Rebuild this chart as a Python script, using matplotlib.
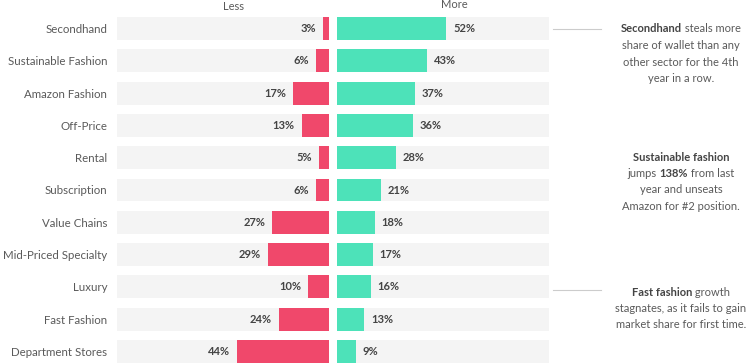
import matplotlib.pyplot as plt

categories = ['Secondhand', 'Sustainable Fashion', 'Amazon Fashion', 'Off-Price', 'Rental',
              'Subscription', 'Value Chains', 'Mid-Priced Specialty', 'Luxury', 'Fast Fashion',
              'Department Stores']
less = [3, 6, 17, 13, 5, 6, 27, 29, 10, 24, 44]
more = [52, 43, 37, 36, 28, 21, 18, 17, 16, 13, 9]

notes = [
    (0, [[('Secondhand', True), (' steals more', False)],
         [('share of wallet than any', False)],
         [('other sector for the 4th', False)],
         [('year in a row.', False)]]),
    (None, [[('Sustainable fashion', True)],
            [('jumps ', False), ('138%', True), (' from last', False)],
            [('year and unseats', False)],
            [('Amazon for #2 position.', False)]]),
    (8, [[('Fast fashion', True), (' growth', False)],
         [('stagnates, as it fails to gain', False)],
         [('market share for first time.', False)]]),
]
note_top = [29, 157, 292]

plt.rcParams['font.family'] = ['Lato', 'DejaVu Sans']
W, H = 750, 363
fig = plt.figure(figsize=(W / 100, H / 100), dpi=100)

red = '#f0486b'
green = '#4de2b9'
bg = '#f4f4f4'
txt = '#5a5a5a'
val = '#444444'

row0, step = 28.5, 32.3
ylo = (H - row0) / step
yhi = -row0 / step

axl = fig.add_axes([117 / W, 0, 212 / W, 1])
axr = fig.add_axes([337 / W, 0, 214 / W, 1])
ys = list(range(len(categories)))
for ax in (axl, axr):
    ax.barh(ys, [101] * len(ys), height=0.71, color=bg)
    ax.set_ylim(ylo, yhi)
    for s in ax.spines.values():
        s.set_visible(False)
    ax.tick_params(length=0)
    ax.set_xticks([])

axl.barh(ys, less, height=0.71, color=red)
axl.set_xlim(101, 0)
axl.set_yticks(ys)
axl.set_yticklabels(categories, fontsize=8.3, color=txt)
axl.tick_params(axis='y', pad=7)

axr.barh(ys, more, height=0.71, color=green)
axr.set_xlim(0, 102)
axr.set_yticks([])

for y, v in zip(ys, less):
    axl.annotate('%d%%' % v, (v, y), xytext=(-5, 0), textcoords='offset points',
                 ha='right', va='center', fontsize=8, fontweight='bold', color=val)
for y, v in zip(ys, more):
    axr.annotate('%d%%' % v, (v, y), xytext=(5, 0), textcoords='offset points',
                 ha='left', va='center', fontsize=8, fontweight='bold', color=val)

fig.text(234 / W, 1 - 6 / H, 'Less', ha='center', va='center', fontsize=8, color=txt)
fig.text(454 / W, 1 - 5 / H, 'More', ha='center', va='center', fontsize=8, color=txt)

# connector lines
for row in (0, 8):
    yy = 1 - (row0 + step * row + (3 if row == 8 else 0)) / H
    fig.add_artist(plt.Line2D([553 / W, 601 / W], [yy, yy], color='#cccccc', lw=0.8))

# annotation blocks with mixed bold/normal text, centred on x=681px
renderer = fig.canvas.get_renderer()
cx = 681
for (row, lines), top in zip(notes, note_top):
    for i, parts in enumerate(lines):
        y = 1 - (top + 16.5 * i) / H
        pieces = []
        for s, b in parts:
            t = fig.text(0, y, s, ha='left', va='center', fontsize=8,
                         color='#444444' if b else txt,
                         fontweight='bold' if b else 'normal')
            pieces.append(t)
        widths = [p.get_window_extent(renderer).width for p in pieces]
        x = cx - sum(widths) / 2
        for p, w in zip(pieces, widths):
            p.set_x(x / W)
            x += w

fig.savefig('out.png', dpi=100)
